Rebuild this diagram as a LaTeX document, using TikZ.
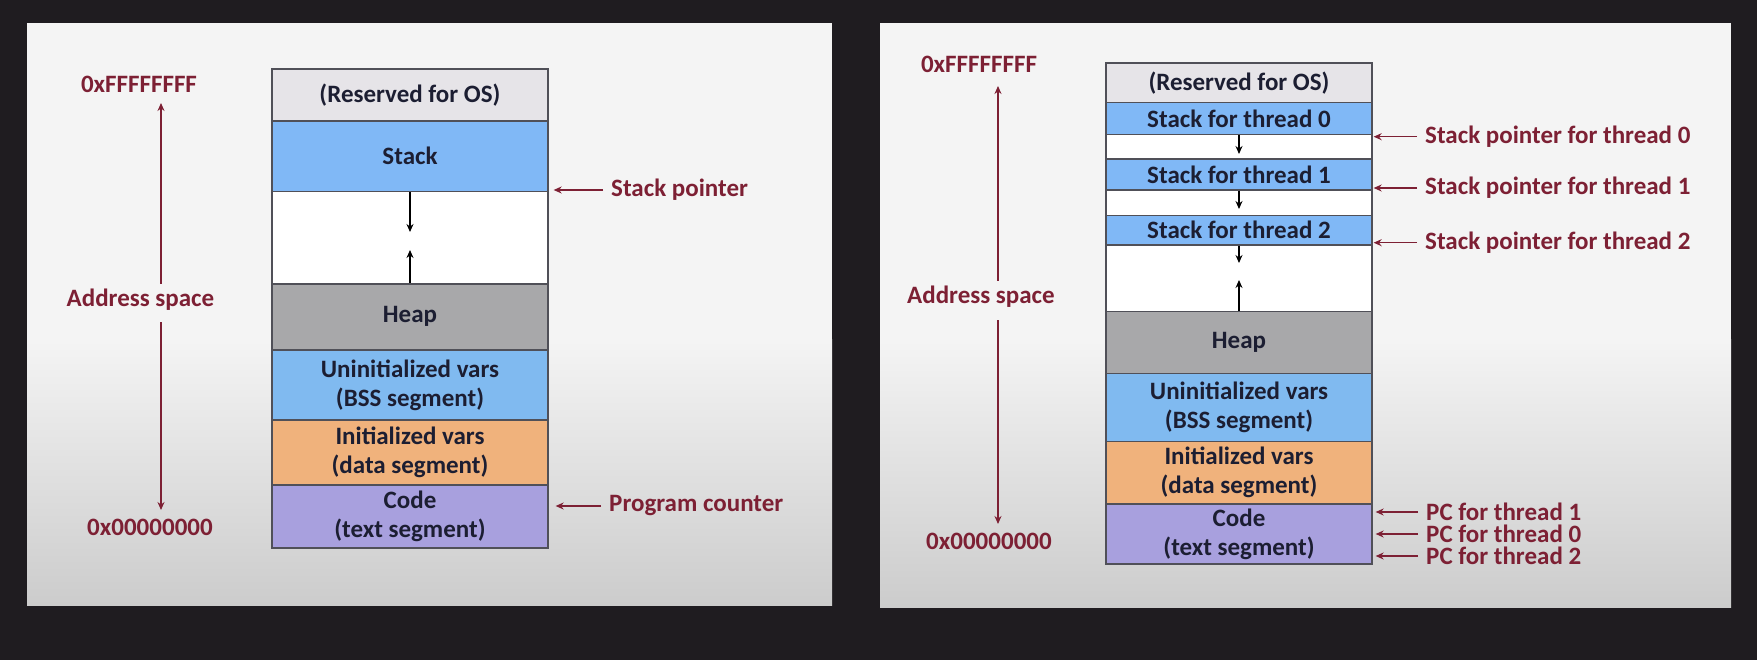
\documentclass[tikz,border=0pt]{standalone}
\usepackage{fontspec}
\setmainfont{Carlito}
\usetikzlibrary{arrows.meta}

\definecolor{slidebg}{RGB}{31,28,32}
\definecolor{paper}{RGB}{244,244,244}
\definecolor{papershade}{RGB}{204,204,204}
\definecolor{addrred}{RGB}{125,32,52}
\definecolor{ink}{RGB}{28,30,50}
\definecolor{segline}{RGB}{80,80,88}
\definecolor{osgray}{RGB}{230,228,232}
\definecolor{stackblue}{RGB}{128,184,246}
\definecolor{heapgray}{RGB}{168,168,170}
\definecolor{bssblue}{RGB}{128,186,240}
\definecolor{dataorange}{RGB}{240,178,124}
\definecolor{codeviolet}{RGB}{168,160,222}

\tikzset{
  seg/.style={draw=segline, line width=1.3pt, inner sep=0pt, align=center,
    text=ink, font=\bfseries\fontsize{25}{29}\selectfont},
  lbl/.style={text=addrred, font=\bfseries\fontsize{25}{29}\selectfont, inner xsep=8pt},
  ptr/.style={draw=addrred, line width=1.3pt, ->},
  growarrow/.style={draw=black, line width=1.3pt, ->},
}

\begin{document}
\begin{tikzpicture}[x=1pt, y=-1pt, >={Stealth[length=8pt,width=7pt]}]
\useasboundingbox (0,0) rectangle (1757,660);
\fill[slidebg] (0,0) rectangle (1757,660);

% single process
\fill[paper] (27,23) rectangle (832,605);
\shade[top color=paper, bottom color=papershade] (27,340) rectangle (832,605);

\node[seg, fill=osgray, minimum width=276pt, minimum height=52pt] (os) at (410,95) {(Reserved for OS)};
\node[seg, fill=stackblue, minimum width=276pt, minimum height=70.5pt] (stk) at (410,156.25) {Stack};
\node[seg, fill=white, minimum width=276pt, minimum height=92.5pt] (free) at (410,237.75) {};
\node[seg, fill=heapgray, minimum width=276pt, minimum height=65.5pt] (heap) at (410,316.75) {Heap};
\node[seg, fill=bssblue, minimum width=276pt, minimum height=70.5pt] (bss) at (410,385.5) {Uninitialized vars\\(BSS segment)};
\node[seg, fill=dataorange, minimum width=276pt, minimum height=65pt] (data) at (410,452.5) {Initialized vars\\(data segment)};
\node[seg, fill=codeviolet, minimum width=276pt, minimum height=63pt] (code) at (410,516.5) {Code\\(text segment)};

\coordinate (stkend) at (410,232);
\coordinate (heapend) at (410,250);
\draw[growarrow] (stk.south) -- (stkend);
\draw[growarrow] (heap.north) -- (heapend);

\node[lbl] (hi) at (139,84) {0xFFFFFFFF};
\node[lbl] (addr) at (140.5,300) {Address space};
\node[lbl] (lo) at (150,527) {0x00000000};
\coordinate (hitip) at (161,103);
\coordinate (lotip) at (161,510);
\draw[ptr, shorten <=2pt] (addr.north -| hitip) -- (hitip);
\draw[ptr, shorten <=8pt] (addr.south -| lotip) -- (lotip);

\node[lbl, anchor=west] (sp) at (603,190) {Stack pointer};
\node[lbl, anchor=west] (pc) at (601,506) {Program counter};
\draw[ptr, shorten >=5pt] (sp.west) -- (sp.west -| os.east);
\draw[ptr, shorten >=7pt] (pc.west) -- (pc.west -| os.east);

% three threads
\fill[paper] (880,23) rectangle (1731,607);
\shade[top color=paper, bottom color=papershade] (880,340) rectangle (1731,607);

\node[seg, fill=osgray, minimum width=266pt, minimum height=39.5pt] (os2) at (1239,82.75) {(Reserved for OS)};
\node[seg, fill=stackblue, minimum width=266pt, minimum height=32.2pt] (s0) at (1239,118.6) {Stack for thread 0};
\node[seg, fill=white, minimum width=266pt, minimum height=24.3pt] (g0) at (1239,146.85) {};
\node[seg, fill=stackblue, minimum width=266pt, minimum height=31pt] (s1) at (1239,174.5) {Stack for thread 1};
\node[seg, fill=white, minimum width=266pt, minimum height=25.5pt] (g1) at (1239,202.75) {};
\node[seg, fill=stackblue, minimum width=266pt, minimum height=29.5pt] (s2) at (1239,230.25) {Stack for thread 2};
\node[seg, fill=white, minimum width=266pt, minimum height=66.5pt] (free2) at (1239,278.25) {};
\node[seg, fill=heapgray, minimum width=266pt, minimum height=62pt] (heap2) at (1239,342.5) {Heap};
\node[seg, fill=bssblue, minimum width=266pt, minimum height=68pt] (bss2) at (1239,407.5) {Uninitialized vars\\(BSS segment)};
\node[seg, fill=dataorange, minimum width=266pt, minimum height=62.5pt] (data2) at (1239,472.75) {Initialized vars\\(data segment)};
\node[seg, fill=codeviolet, minimum width=266pt, minimum height=60pt] (code2) at (1239,534) {Code\\(text segment)};

\coordinate (s0end) at (1239,154);
\coordinate (s1end) at (1239,209);
\coordinate (s2end) at (1239,263);
\coordinate (heap2end) at (1239,280);
\draw[growarrow] (s0.south) -- (s0end);
\draw[growarrow] (s1.south) -- (s1end);
\draw[growarrow] (s2.south) -- (s2end);
\draw[growarrow] (heap2.north) -- (heap2end);

\node[lbl] (hi2) at (979,64.5) {0xFFFFFFFF};
\node[lbl] (addr2) at (981,297) {Address space};
\node[lbl] (lo2) at (989,541) {0x00000000};
\coordinate (hitip2) at (998,86);
\coordinate (lotip2) at (998,524);
\draw[ptr, shorten <=2pt] (addr2.north -| hitip2) -- (hitip2);
\draw[ptr, shorten <=9pt] (addr2.south -| lotip2) -- (lotip2);

\node[lbl, anchor=west] (sp0) at (1417,136.7) {Stack pointer for thread 0};
\node[lbl, anchor=west] (sp1) at (1417,188) {Stack pointer for thread 1};
\node[lbl, anchor=west] (sp2) at (1417,242.7) {Stack pointer for thread 2};
\draw[ptr, shorten >=1pt] (sp0.west) -- (sp0.west -| os2.east);
\draw[ptr, shorten >=1pt] (sp1.west) -- (sp1.west -| os2.east);
\draw[ptr, shorten >=1pt] (sp2.west) -- (sp2.west -| os2.east);

\node[lbl, anchor=west] (pc1) at (1418,512) {PC for thread 1};
\node[lbl, anchor=west] (pc0) at (1418,534) {PC for thread 0};
\node[lbl, anchor=west] (pc2) at (1418,556) {PC for thread 2};
\draw[ptr, shorten >=3pt] (pc1.west) -- (pc1.west -| os2.east);
\draw[ptr, shorten >=3pt] (pc0.west) -- (pc0.west -| os2.east);
\draw[ptr, shorten >=3pt] (pc2.west) -- (pc2.west -| os2.east);
\end{tikzpicture}
\end{document}
